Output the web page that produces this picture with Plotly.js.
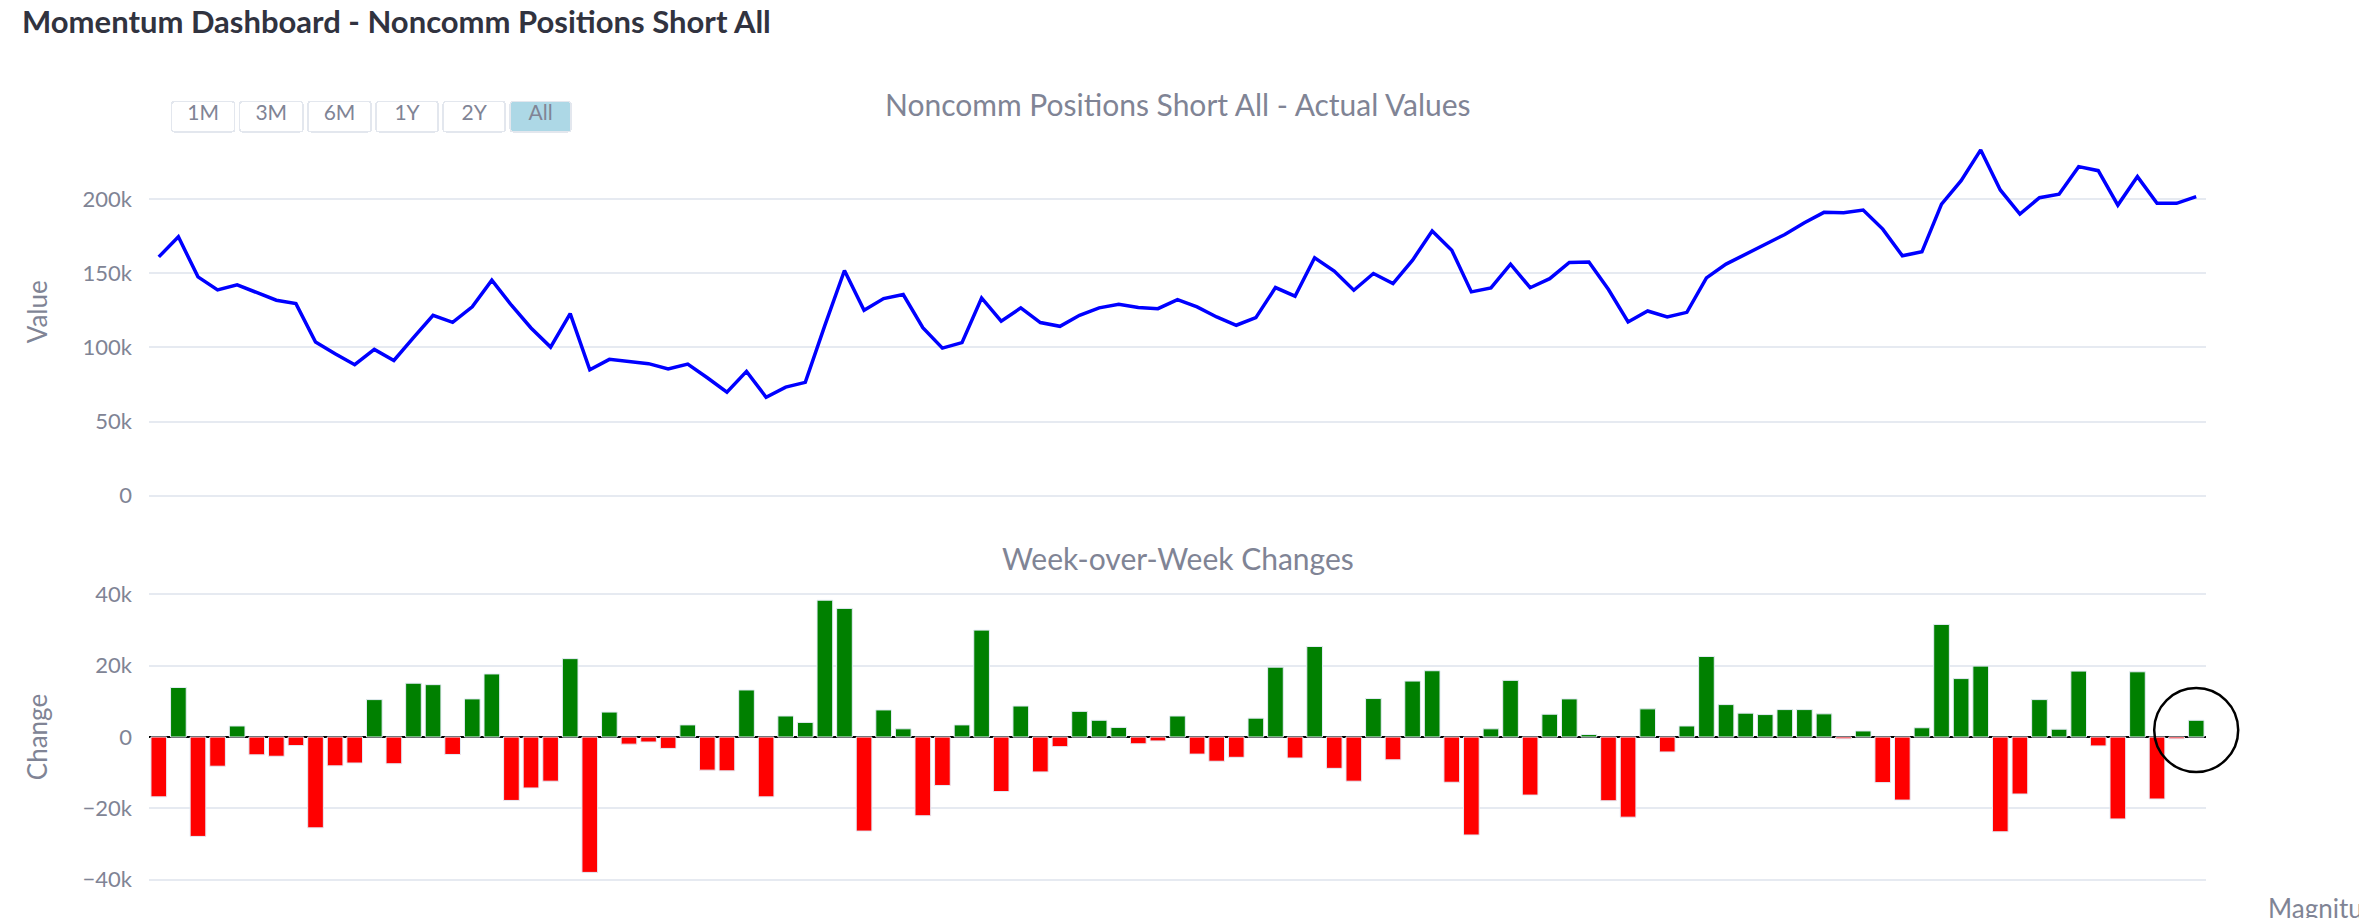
<!DOCTYPE html>
<html>
<head>
<meta charset="utf-8">
<script src="https://cdn.plot.ly/plotly-3.0.1.min.js"></script>
<style>
  html, body { margin:0; padding:0; background:#ffffff; overflow:hidden; width:2359px; height:918px; }
  #page-title { position:absolute; left:22px; top:6px; font-family: Lato, "Noto Sans", sans-serif; font-weight:700; font-size:31px; line-height:31px; color:#31333F; z-index:5; white-space:nowrap; pointer-events:none; }
  #chart { position:absolute; left:0; top:0; width:2359px; height:918px; }
</style>
</head>
<body>
<div id="page-title">Momentum Dashboard - Noncomm Positions Short All</div>
<div id="chart"></div>
<script>
// ---------- data ----------
const dates = [
 '2023-01-03','2023-01-10','2023-01-17','2023-01-24','2023-01-31','2023-02-07','2023-02-14','2023-02-21','2023-02-28',
 '2023-03-07','2023-03-14','2023-03-21','2023-03-28','2023-04-04','2023-04-11','2023-04-18','2023-04-25',
 '2023-05-02','2023-05-09','2023-05-16','2023-05-23','2023-05-30','2023-06-06','2023-06-13','2023-06-20','2023-06-27',
 '2023-07-04','2023-07-11','2023-07-18','2023-07-25','2023-08-01','2023-08-08','2023-08-15','2023-08-22','2023-08-29',
 '2023-09-05','2023-09-12','2023-09-19','2023-09-26','2023-10-03','2023-10-10','2023-10-17','2023-10-24','2023-10-31',
 '2023-11-07','2023-11-14','2023-11-21','2023-11-28','2023-12-05','2023-12-12','2023-12-19','2023-12-26',
 '2024-01-02','2024-01-09','2024-01-16','2024-01-23','2024-01-30','2024-02-06','2024-02-13','2024-02-20','2024-02-27',
 '2024-03-05','2024-03-12','2024-03-19','2024-03-26','2024-04-02','2024-04-09','2024-04-16','2024-04-23','2024-04-30',
 '2024-05-07','2024-05-14','2024-05-21','2024-05-28','2024-06-04','2024-06-11','2024-06-18','2024-06-25',
 '2024-07-02','2024-07-09','2024-07-16','2024-07-23','2024-07-30','2024-08-06','2024-08-13','2024-08-20','2024-08-27',
 '2024-09-03','2024-09-10','2024-09-17','2024-09-24','2024-10-01','2024-10-08','2024-10-15','2024-10-22','2024-10-29',
 '2024-11-05','2024-11-12','2024-11-19','2024-11-26','2024-12-03','2024-12-10','2024-12-17','2024-12-24','2024-12-31'
];

const actualValues = [
 161000,174500,147500,138700,142100,136900,131800,129500,103600,95700,
 88300,98600,91200,106500,121600,116900,127300,145300,128400,113100,
 100200,122700,84900,91900,90500,89000,85400,88700,79500,69800,
 83800,66400,73200,76400,114800,151800,125000,132900,135600,113300,
 99500,103200,133300,117600,126600,116700,114200,121600,126600,129100,
 126800,126100,132200,127300,120500,114900,120000,140300,134500,160400,
 151400,138500,149800,143000,158800,178400,165500,137400,140100,156100,
 140200,146300,157200,157600,139000,117100,124500,120500,123600,146800,
 156100,162800,169600,176100,184000,191000,190800,192600,179700,161700,
 164400,196600,212400,233100,206100,189900,200900,203200,221800,219100,
 195900,215100,197100,197100,201600
];

const weeklyChanges = [
 -16800,13900,-27900,-8200,3100,-5000,-5400,-2400,-25500,-8100,
 -7300,10500,-7500,15100,14700,-4900,10700,17700,-17800,-14300,
 -12400,22000,-38000,7000,-2000,-1400,-3200,3400,-9300,-9500,
 13200,-16800,5900,4100,38400,36100,-26400,7600,2300,-22100,
 -13600,3400,30000,-15300,8700,-9800,-2700,7200,4700,2700,
 -1900,-1100,5900,-4800,-6800,-5700,5300,19600,-5900,25400,
 -8800,-12400,10800,-6400,15700,18600,-12700,-27500,2300,15900,
 -16300,6400,10700,700,-17900,-22500,7900,-4200,3100,22600,
 9100,6700,6300,7700,7700,6500,-500,1700,-12800,-17700,
 2600,31600,16400,19900,-26600,-16000,10500,2200,18500,-2500,
 -23000,18300,-17400,-500,4700
];

// button labels padded with non-breaking / thin spaces to give the buttons their width
const NB = '\u00a0\u00a0', TH = '\u2009';
const rangeButtons = [
  {count:1, label:NB+'1M'+NB, step:'month', stepmode:'backward'},
  {count:3, label:NB+'3M'+NB, step:'month', stepmode:'backward'},
  {count:6, label:NB+'6M'+NB, step:'month', stepmode:'backward'},
  {count:1, label:NB+TH+'1Y'+TH+NB, step:'year', stepmode:'backward'},
  {count:2, label:NB+TH+'2Y'+TH+NB, step:'year', stepmode:'backward'},
  {label:NB+TH+'All'+TH+NB, step:'all'}
];

const subplotTitles = ['Noncomm Positions Short All - Actual Values', 'Week-over-Week Changes'];
const colorbarTitle = 'Magnitude';

// ---------- styles ----------
const GRAY = '#808495';
const GRID = '#e6eaf1';
const W = 2359, H = 918;
const M = {l:149, r:152.5, t:0, b:0};
const topDomain = [0.46, 0.8608];
const botDomain = [0.0183, 0.376];

const barColors = weeklyChanges.map(v => v >= 0 ? '#008000' : '#ff0000');

const data = [
  {
    type:'scatter', mode:'lines', x:dates, y:actualValues,
    xaxis:'x', yaxis:'y', name:'Actual',
    line:{color:'#0000ff', width:3.5}, hoverinfo:'x+y'
  },
  {
    type:'bar', x:dates, y:weeklyChanges, xaxis:'x2', yaxis:'y2', name:'Change',
    marker:{color:barColors, line:{color:'#e5ecf6', width:1}}
  }
];

const layout = {
  width:W, height:H, margin:M,
  paper_bgcolor:'#ffffff', plot_bgcolor:'#ffffff',
  font:{family:'Lato, "Noto Sans", sans-serif', color:GRAY, size:22},
  showlegend:false, bargap:0.2,
  xaxis:{
    domain:[0,1], anchor:'y', matches:'x2', type:'date',
    showticklabels:false, showgrid:false, zeroline:false, showline:false,
    rangeselector:{
      buttons:rangeButtons,
      x:0.0102, xanchor:'left', y:0.8747, yanchor:'middle',
      bgcolor:'#ffffff', activecolor:'#add8e6', bordercolor:'#e3e7ee', borderwidth:1.5,
      font:{size:21, color:GRAY, family:'Lato, sans-serif'}
    }
  },
  yaxis:{
    domain:topDomain, anchor:'x', range:[0,248000], tick0:0, dtick:50000,
    gridcolor:GRID, gridwidth:1.8, zeroline:true, zerolinecolor:GRID, zerolinewidth:1.8,
    showline:false, ticklabelstandoff:16, tickfont:{size:22, color:GRAY},
    title:{text:'Value', standoff:27, font:{size:26, color:GRAY}}
  },
  xaxis2:{
    domain:[0,1], anchor:'y2', type:'date',
    showticklabels:false, showgrid:false, zeroline:false, showline:false
  },
  yaxis2:{
    domain:botDomain, anchor:'x2', range:[-46080,46080], tick0:0, dtick:20000,
    gridcolor:GRID, gridwidth:1.8, zeroline:true, zerolinecolor:'#000000', zerolinewidth:2,
    showline:false, ticklabelstandoff:16, tickfont:{size:22, color:GRAY},
    title:{text:'Change', standoff:27, font:{size:26, color:GRAY}}
  },
  annotations:[
    {text:subplotTitles[0], xref:'paper', yref:'paper', x:0.5, y:topDomain[1], xanchor:'center', yanchor:'bottom', yshift:4, showarrow:false, font:{size:30, color:GRAY}},
    {text:subplotTitles[1], xref:'paper', yref:'paper', x:0.5, y:botDomain[1], xanchor:'center', yanchor:'bottom', yshift:-5, showarrow:false, font:{size:30, color:GRAY}},
    {text:colorbarTitle, xref:'paper', yref:'paper', x:(2267-149)/(W-M.l-M.r), y:1-890/H, xanchor:'left', yanchor:'top', showarrow:false, font:{size:26, color:GRAY}}
  ]
};

const gd = document.getElementById('chart');
Plotly.newPlot(gd, data, layout, {displayModeBar:false, responsive:false}).then(function(){
  const fl = gd._fullLayout;
  const xa = fl.xaxis2, ya = fl.yaxis2;
  const lastIdx = dates.length - 1;
  const px = xa._offset + xa.l2p(xa.d2l(dates[lastIdx]));
  const py = ya._offset + ya.l2p(0);
  const plotW = fl._size.w, plotH = fl._size.h;
  const xPaper = (px - fl._size.l) / plotW;
  const yPaper = 1 - (py - fl._size.t) / plotH;
  return Plotly.relayout(gd, {shapes:[{
    type:'circle', xref:'paper', yref:'paper',
    xsizemode:'pixel', ysizemode:'pixel', xanchor:xPaper, yanchor:yPaper,
    x0:-42, x1:42, y0:-35, y1:49,
    line:{color:'#000000', width:2.5}, fillcolor:'rgba(0,0,0,0)', layer:'above'
  }]});
});
</script>
</body>
</html>
